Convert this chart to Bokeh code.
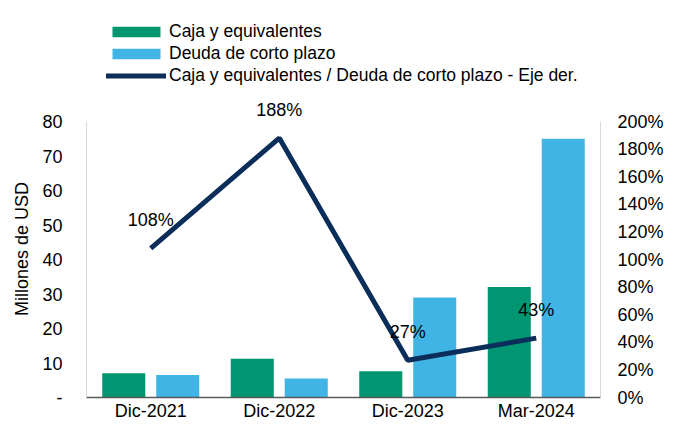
from bokeh.plotting import figure
from bokeh.layouts import column
from bokeh.models import FactorRange, Range1d, LinearAxis, Legend, LegendItem, ColumnDataSource, FixedTicker, NumeralTickFormatter
from bokeh.transform import dodge
from bokeh.core.properties import value
from bokeh.embed import file_html
from bokeh.resources import INLINE

categories = ["Dic-2021", "Dic-2022", "Dic-2023", "Mar-2024"]
caja = [7.0, 11.2, 7.6, 32.0]
deuda = [6.5, 5.5, 29.0, 75.0]
ratio = [108, 188, 27, 43]
ratio_labels = ["108%", "188%", "27%", "43%"]
series_names = ["Caja y equivalentes", "Deuda de corto plazo",
                "Caja y equivalentes / Deuda de corto plazo - Eje der."]
left_ticks = list(range(0, 81, 10))
right_ticks = list(range(0, 201, 20))

GREEN = "#009672"
BLUE = "#41B4E6"
NAVY = "#0A2D5A"
FONT = "Liberation Sans"
FS = "18px"

# frame is taller than the axes' extent so that the top data label is not clipped
AXIS_PX = 276
FRAME_PX = 297
Y_TOP = 80 * FRAME_PX / AXIS_PX
Y2_TOP = 200 * FRAME_PX / AXIS_PX

src = ColumnDataSource(dict(cat=categories, caja=caja, deuda=deuda, ratio=ratio, lab=ratio_labels))

# ---------- main chart ----------
p = figure(x_range=FactorRange(*categories), y_range=Range1d(0, Y_TOP),
           frame_width=514, frame_height=FRAME_PX, output_backend="svg", toolbar_location=None,
           min_border_left=86, min_border_right=70, min_border_top=0, min_border_bottom=0)
p.extra_y_ranges = {"right": Range1d(0, Y2_TOP)}
p.outline_line_color = None
p.xgrid.grid_line_color = None
p.ygrid.grid_line_color = None
p.background_fill_color = "white"
p.border_fill_color = "white"

p.vbar(x=dodge("cat", -0.21, range=p.x_range), top="caja", width=0.335, source=src,
       fill_color=GREEN, line_color=None)
p.vbar(x=dodge("cat", 0.21, range=p.x_range), top="deuda", width=0.335, source=src,
       fill_color=BLUE, line_color=None)
p.line(x="cat", y="ratio", source=src, y_range_name="right", line_color=NAVY, line_width=5)
p.text(x="cat", y="ratio", text="lab", source=src, y_range_name="right",
       text_align="center", text_baseline="middle", y_offset=-28,
       text_font=value(FONT), text_font_size=FS, text_color="black")

ya = p.yaxis[0]
ya.bounds = (0, 80)
ya.ticker = FixedTicker(ticks=left_ticks)
ya.major_label_overrides = {0: "-"}
ya.axis_line_color = "#d9d9d9"
ya.major_tick_line_color = None
ya.minor_tick_line_color = None
ya.major_tick_out = 0
ya.major_tick_in = 0
ya.major_label_text_font = FONT
ya.major_label_text_font_size = FS
ya.major_label_text_color = "black"
ya.major_label_standoff = 24
ya.axis_label = "Millones de USD"
ya.axis_label_text_font = FONT
ya.axis_label_text_font_size = FS
ya.axis_label_text_font_style = "normal"
ya.axis_label_text_color = "black"
ya.axis_label_standoff = 7

ra = LinearAxis(y_range_name="right", ticker=FixedTicker(ticks=right_ticks),
                formatter=NumeralTickFormatter(format="0"), bounds=(0, 200))
ra.major_label_overrides = {t: f"{t}%" for t in right_ticks}
ra.axis_line_color = "#d9d9d9"
ra.major_tick_line_color = None
ra.minor_tick_line_color = None
ra.major_tick_out = 0
ra.major_tick_in = 0
ra.major_label_text_font = FONT
ra.major_label_text_font_size = FS
ra.major_label_text_color = "black"
ra.major_label_standoff = 17
p.add_layout(ra, "right")

xa = p.xaxis[0]
xa.axis_line_color = "#595959"
xa.axis_line_width = 1.5
xa.major_tick_line_color = None
xa.minor_tick_line_color = None
xa.major_tick_out = 0
xa.major_tick_in = 0
xa.major_label_text_font = FONT
xa.major_label_text_font_size = FS
xa.major_label_text_color = "black"
xa.major_label_standoff = 3

# ---------- legend strip (frame aligned with the chart's frame) ----------
lg = figure(width=670, height=100, output_backend="svg", toolbar_location=None,
            x_range=Range1d(0, 1), y_range=Range1d(0, 1),
            min_border_left=0, min_border_right=0, min_border_top=0, min_border_bottom=0)
lg.axis.visible = False
lg.grid.visible = False
lg.outline_line_color = None
# legend-only glyphs, placed outside the visible range
dummy = ColumnDataSource(dict(x=[-5, -6], y=[-5, -6], top=[-5, -6]))
r1 = lg.vbar(x="x", top="top", width=0.1, source=dummy, fill_color=GREEN, line_color=None)
r2 = lg.vbar(x="x", top="top", width=0.1, source=dummy, fill_color=BLUE, line_color=None)
r3 = lg.line(x="x", y="y", source=dummy, line_color=NAVY, line_width=5, line_cap="round")

legend = Legend(items=[
    LegendItem(label=series_names[0], renderers=[r1]),
    LegendItem(label=series_names[1], renderers=[r2]),
    LegendItem(label=series_names[2], renderers=[r3]),
], location=(20, 14), orientation="vertical")
legend.border_line_color = None
legend.background_fill_alpha = 0
legend.padding = 0
legend.margin = 0
legend.spacing = 1
legend.glyph_width = 60
legend.glyph_height = 13
legend.label_height = 20
legend.label_standoff = 3
legend.label_text_font = FONT
legend.label_text_font_size = "17.5px"
legend.label_text_color = "black"
lg.add_layout(legend, "center")

layout = column(lg, p, spacing=0)
open("out.html", "w").write(file_html(layout, INLINE))
